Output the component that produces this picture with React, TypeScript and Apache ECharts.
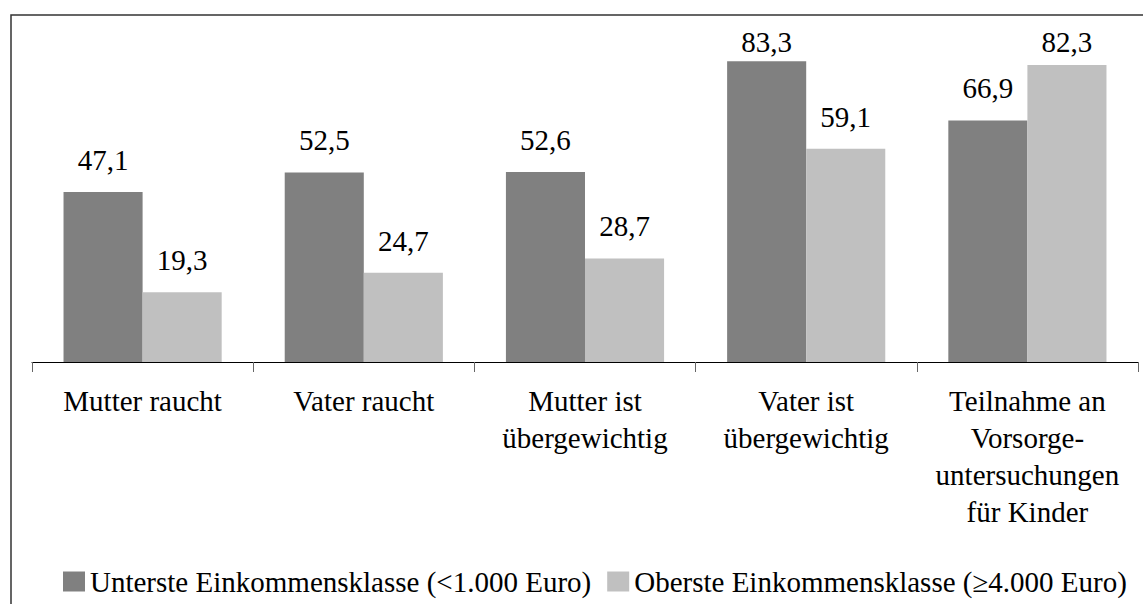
import React, { useEffect, useRef } from "react";
import * as echarts from "echarts";

const categories = [
  "Mutter raucht",
  "Vater raucht",
  "Mutter ist\nübergewichtig",
  "Vater ist\nübergewichtig",
  "Teilnahme an\nVorsorge-\nuntersuchungen\nfür Kinder",
];
const seriesNames = [
  "Unterste Einkommensklasse (<1.000 Euro)",
  "Oberste Einkommensklasse (≥4.000 Euro)",
];
const lowIncome = [47.1, 52.5, 52.6, 83.3, 66.9];
const highIncome = [19.3, 24.7, 28.7, 59.1, 82.3];

const FONT = "Liberation Serif";
const FS = 29;

export default function App() {
  const ref = useRef<HTMLDivElement>(null);
  useEffect(() => {
    if (!ref.current) return;
    const chart = echarts.init(ref.current, null, { renderer: "svg" });
    const label = {
      show: true,
      position: "top",
      distance: 18,
      color: "#000",
      fontFamily: FONT,
      fontSize: FS,
      lineHeight: 28,
      formatter: (p: any) => String(p.value).replace(".", ","),
    };
    // keep labels inside the chart area (like the original), pushing them down if needed
    const labelLayout = (p: any) => ({ dy: Math.max(0, 27 - p.labelRect.y) });
    chart.setOption({
      animation: false,
      backgroundColor: "#fff",
      textStyle: { fontFamily: "DejaVu Serif" },
      grid: { left: 32, right: 5, top: 1, bottom: 242 },
      xAxis: {
        type: "category",
        data: categories,
        axisLine: { lineStyle: { color: "#000", width: 1 } },
        axisTick: { show: true, length: 10, lineStyle: { color: "#666" } },
        axisLabel: {
          interval: 0,
          color: "#000",
          fontFamily: FONT,
          fontSize: FS,
          lineHeight: 37,
          margin: 20,
          align: "center",
        },
      },
      yAxis: {
        type: "value",
        min: 0,
        max: 100,
        show: false,
      },
      legend: {
        left: 58,
        top: 562,
        icon: "rect",
        itemWidth: 22,
        itemHeight: 20,
        itemGap: 16,
        textStyle: { color: "#000", fontFamily: FONT, fontSize: FS },
        data: seriesNames,
      },
      graphic: [
        {
          type: "rect",
          shape: { x: 11, y: 15, width: 1200, height: 700 },
          style: { fill: "none", stroke: "#333", lineWidth: 1.5 },
          silent: true,
          z: -1,
        },
      ],
      series: [
        {
          name: seriesNames[0],
          type: "bar",
          data: lowIncome,
          barGap: "0%",
          barCategoryGap: "28.5%",
          itemStyle: { color: "#808080" },
          label,
          labelLayout,
        },
        {
          name: seriesNames[1],
          type: "bar",
          data: highIncome,
          barGap: "0%",
          barCategoryGap: "28.5%",
          itemStyle: { color: "#c0c0c0" },
          label,
          labelLayout,
        },
      ],
    });
    return () => chart.dispose();
  }, []);
  return <div ref={ref} style={{ width: 1143, height: 604, position: "fixed", left: 0, top: 0 }} />;
}
